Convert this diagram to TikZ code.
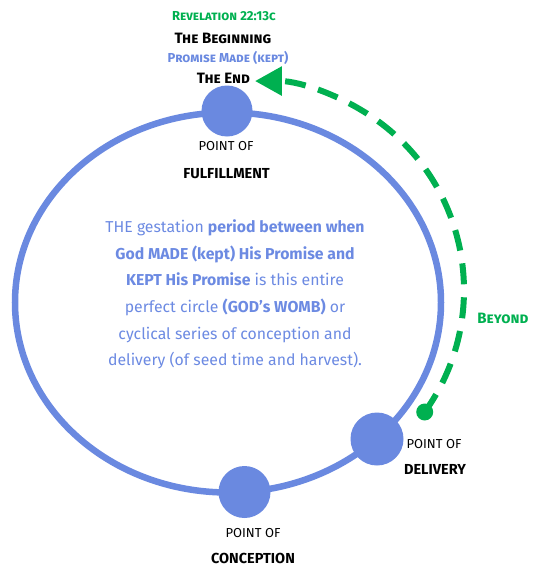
\documentclass[tikz,border=0pt]{standalone}
\usepackage{fontspec}
\setmainfont{Fira Sans}
\newfontfamily\scf[Letters=SmallCaps]{Fira Sans}
\usetikzlibrary{arrows.meta}
\definecolor{cblue}{RGB}{106,137,224}
\definecolor{tblue}{RGB}{108,138,226}
\definecolor{cgreen}{RGB}{0,176,80}
\tikzset{
  dotnode/.style={circle, fill=cblue, inner sep=0pt, minimum size=#1},
  lbl/.style={anchor=base, inner sep=0pt, text=black},
  thinlbl/.style={lbl, font=\fontsize{13}{15}\selectfont},
  boldlbl/.style={lbl, font=\fontsize{14.5}{16}\selectfont\bfseries},
  sclbl/.style={anchor=base, inner sep=0pt, font=\scf\fontsize{15}{17}\selectfont\bfseries},
  maintext/.style={align=center, text=tblue, inner sep=0pt, font=\fontsize{15.8}{26.6}\selectfont},
  greenline/.style={cgreen, line width=6pt, dash pattern=on 21pt off 13pt}
}
\begin{document}
\begin{tikzpicture}[x=1pt,y=1pt]
\useasboundingbox (0,0) rectangle (542,-570);
% main circle
\draw[cblue, line width=6.5pt] (228,-302.5) ellipse [x radius=213, y radius=190];
% points on the circle
\node[dotnode=51pt] (ful) at (227,-111) {};
\node[dotnode=53pt] (del) at (377,-439) {};
\node[dotnode=52pt] (con) at (244.5,-492) {};
% top labels
\node[sclbl, text=cgreen, font=\scf\fontsize{13}{15}\selectfont\bfseries] (rev) at (224,-20) {Revelation 22:13c};
\node[sclbl, text=black] (beg) at (223,-43) {The Beginning};
\node[sclbl, text=cblue, font=\scf\fontsize{13}{15}\selectfont\bfseries] (pm) at (228,-62) {Promise Made (kept)};
\node[sclbl, text=black] (theend) at (223.5,-83) {The End};
% point labels
\node[thinlbl] (fp) at (226,-150.5) {POINT OF};
\node[boldlbl] (fl) at (226.5,-178) {FULFILLMENT};
\node[thinlbl] (dp) at (434,-448.5) {POINT OF};
\node[boldlbl] (dl) at (435,-474) {DELIVERY};
\node[thinlbl] (cp) at (253,-537.5) {POINT OF};
\node[boldlbl] (cl) at (253,-563) {CONCEPTION};
% body text
\node[maintext] (body) at (235,-294.5) {THE gestation \textbf{period between when}\\
\textbf{God MADE (kept) His Promise and}\\
\textbf{KEPT His Promise} is this entire\\
perfect circle \textbf{(GOD's WOMB)} or\\
cyclical series of conception and\\
delivery (of seed time and harvest).};
% beyond arc
\node[circle, fill=cgreen, inner sep=0pt, minimum size=17pt] (gdot) at (424.7,-412) {};
\draw[greenline, -{Triangle[length=27pt,width=28pt]}] (gdot.center) arc[start angle=-35.7, end angle=90, radius=209];
\node[sclbl, text=cgreen] (beyond) at (503,-323) {Beyond};
\end{tikzpicture}
\end{document}
